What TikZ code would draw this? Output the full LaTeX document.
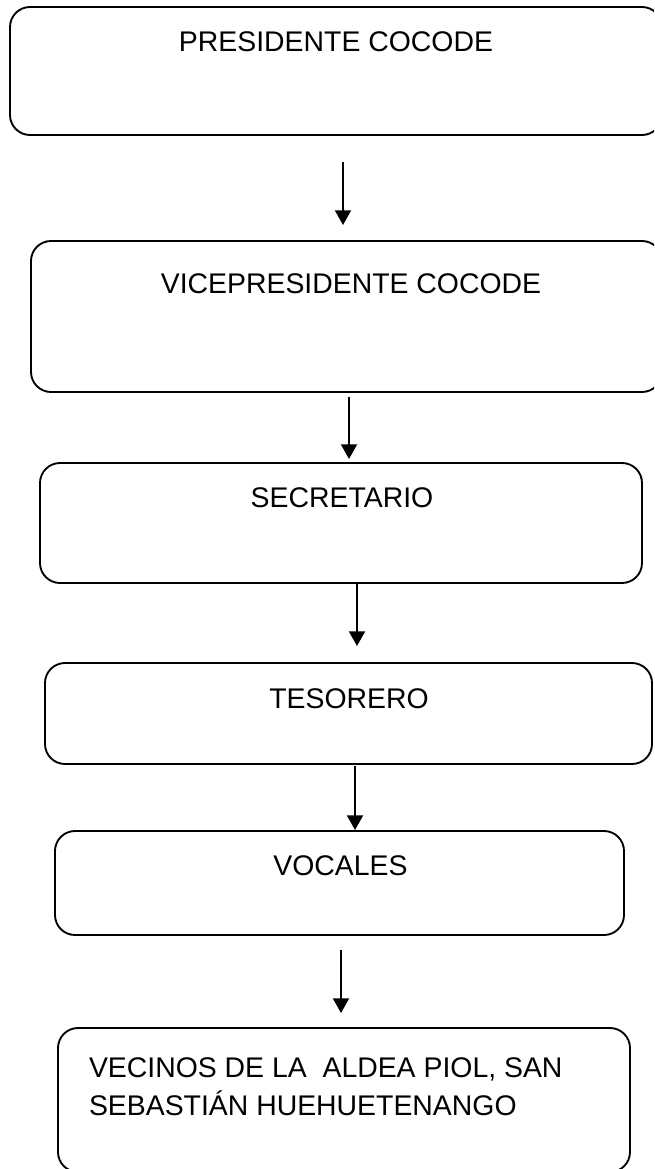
\documentclass[tikz,border=0pt]{standalone}
\usepackage{fontspec}
\setmainfont{Liberation Sans}
\usetikzlibrary{arrows.meta}
\tikzset{
  orgbox/.style={draw=black, line width=1.4pt, rectangle, rounded corners=15pt, inner sep=0pt, outer sep=0pt, fill=none},
  orgtext/.style={inner sep=0pt, outer sep=0pt, font=\fontsize{21.3}{28.5}\selectfont},
  orgarrow/.style={line width=1.4pt, -{Triangle[length=11pt, width=12pt]}}
}
\begin{document}
\begin{tikzpicture}[x=0.75pt, y=-0.75pt]
\useasboundingbox (0,0) rectangle (654,1169);
\fill[white] (0,0) rectangle (654,1169);
\clip (0,0) rectangle (654,1169);
% boxes
\node[orgbox, minimum width=489pt, minimum height=96pt] (b1) at (336,71) {};
\node[orgbox, minimum width=473.25pt, minimum height=113.25pt] (b2) at (346.5,316.5) {};
\node[orgbox, minimum width=451.5pt, minimum height=90pt] (b3) at (341,523) {};
\node[orgbox, minimum width=455.25pt, minimum height=75.75pt] (b4) at (348.5,713.5) {};
\node[orgbox, minimum width=426.75pt, minimum height=78pt] (b5) at (339.5,883) {};
\node[orgbox, minimum width=429pt, minimum height=108pt] (b6) at (344,1100) {};
% texts
\node[orgtext, anchor=base] (t1) at (336,52) {PRESIDENTE COCODE};
\node[orgtext, anchor=base] (t2) at (351,294) {VICEPRESIDENTE COCODE};
\node[orgtext, anchor=base] (t3) at (342,507) {SECRETARIO};
\node[orgtext, anchor=base] (t4) at (349,708) {TESORERO};
\node[orgtext, anchor=base] (t5) at (340.5,875) {VOCALES};
\node[orgtext, anchor=base west, align=left] (t6) at (89,1115) {VECINOS DE LA \ ALDEA PIOL, SAN\\SEBASTIÁN HUEHUETENANGO};
% arrow end points
\coordinate (a1s) at (343,162); \coordinate (a1e) at (343,225);
\coordinate (a2s) at (349,397); \coordinate (a2e) at (349,459);
\coordinate (a3s) at (357,583); \coordinate (a3e) at (357,646);
\coordinate (a4s) at (355,766); \coordinate (a4e) at (355,830);
\coordinate (a5s) at (341,950); \coordinate (a5e) at (341,1013);
\draw[orgarrow] (a1s) -- (a1e);
\draw[orgarrow] (a2s) -- (a2e);
\draw[orgarrow] (a3s) -- (a3e);
\draw[orgarrow] (a4s) -- (a4e);
\draw[orgarrow] (a5s) -- (a5e);
\end{tikzpicture}
\end{document}
